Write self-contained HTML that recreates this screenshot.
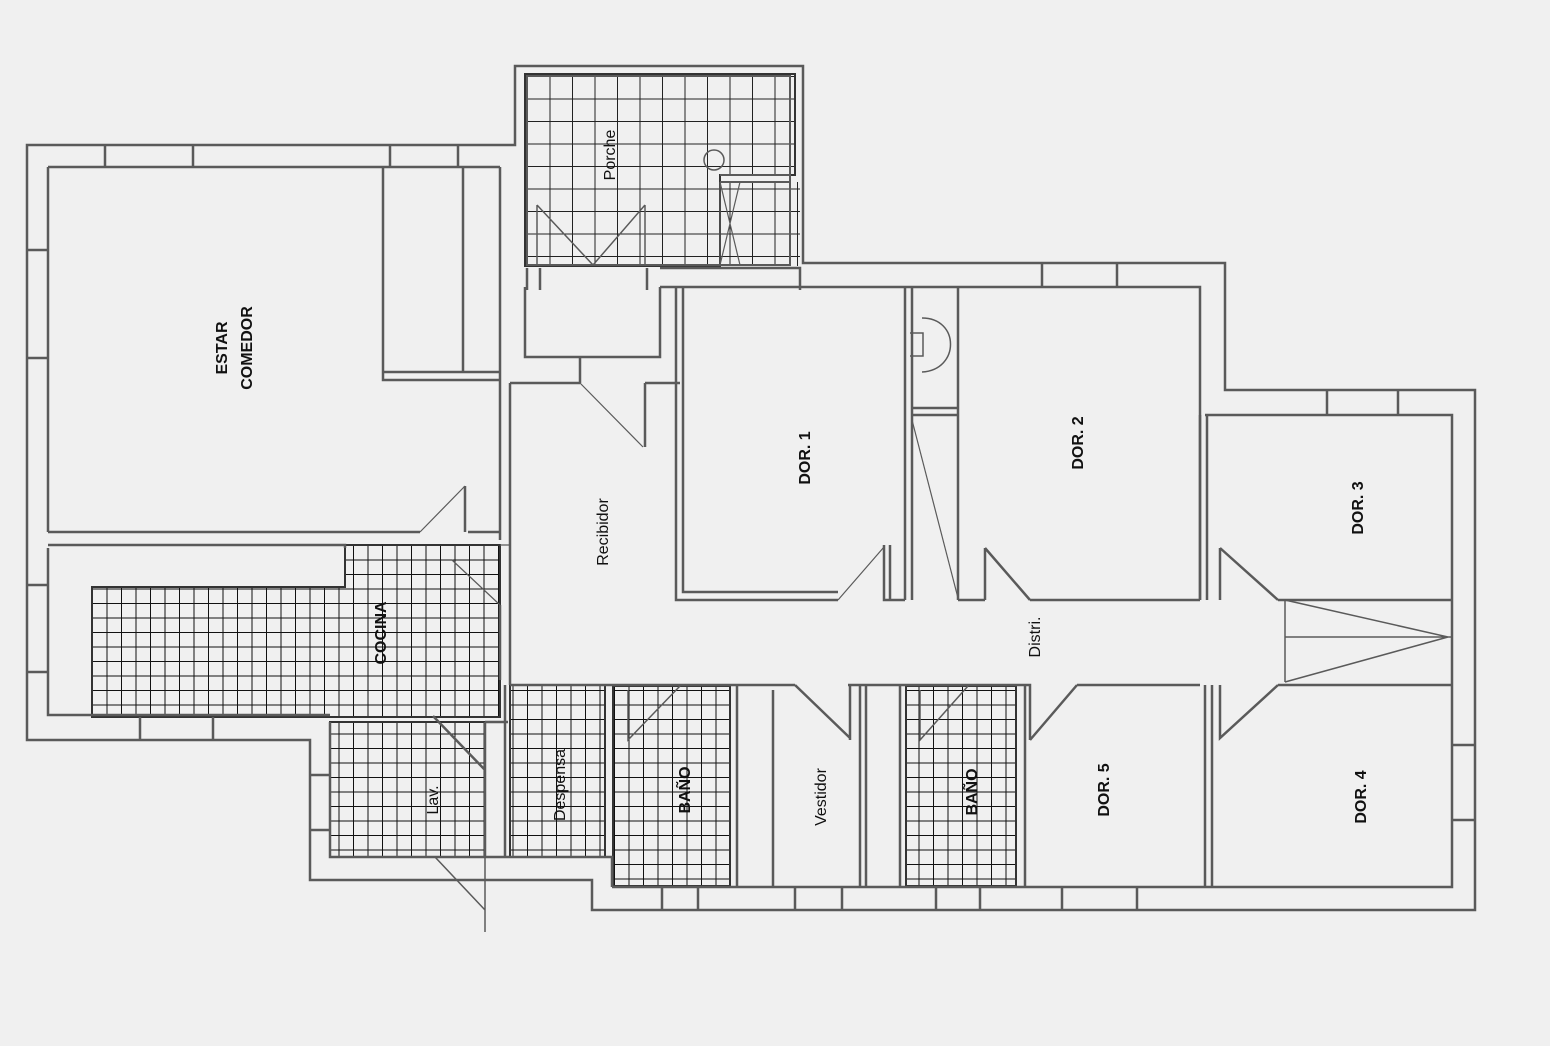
<!DOCTYPE html>
<html><head><meta charset="utf-8"><style>
html,body{margin:0;padding:0;background:#f0f0f0;}
svg{display:block}
text{font-family:"Liberation Sans",Arial,sans-serif;font-weight:bold;fill:#111;font-size:16px}
</style></head><body>
<svg width="1550" height="1046" viewBox="0 0 1550 1046" xmlns="http://www.w3.org/2000/svg">
<defs>
<pattern id="g" x="92" y="545" width="14.5" height="14.5" patternUnits="userSpaceOnUse">
<path d="M0 0H14.5M0 0V14.5" stroke="#111" stroke-width="2" fill="none"/></pattern>
<pattern id="g2" x="527" y="76" width="22.5" height="22.5" patternUnits="userSpaceOnUse">
<path d="M0 0H22.5M0 0V22.5" stroke="#222" stroke-width="2" fill="none"/></pattern>
</defs>
<rect width="1550" height="1046" fill="#f0f0f0"/>
<g stroke="#333" stroke-width="2">
<path d="M92 587H345V545H500V717H92Z" fill="url(#g)"/>
<rect x="330" y="722" width="155" height="135" fill="url(#g)"/>
<rect x="510" y="685" width="95" height="172" fill="url(#g)"/>
<rect x="613" y="686" width="117" height="200" fill="url(#g)"/>
<rect x="906" y="686" width="110" height="200" fill="url(#g)"/>
<path d="M525 74H795V175H720V266H525Z" fill="url(#g2)"/>
<rect x="720" y="182" width="80" height="84" fill="url(#g2)" stroke="none"/>
</g>
<g fill="none" stroke="#5a5a5a" stroke-width="2.5">
<path d="M27 145H515V66H803V263H1225V390H1475V910H592V880H310V740H27Z"/>
<path d="M48 167H500M48 167V532M48 548V715H330M500 167V540"/>
<path d="M527 76H790V265H527Z" stroke-width="2"/>
<path d="M660 287H1200V600M1205 415H1452V887H612"/>
<path d="M330 722V857H612V887"/>
<path d="M105 145V167M193 145V167M390 145V167M458 145V167M27 250H48M27 358H48M27 585H48M27 672H48M140 717V740M213 717V740M310 775H330M310 830H330M1042 263V287M1117 263V287M1327 390V415M1398 390V415M1452 745H1475M1452 820H1475M662 887V910M698 887V910M795 887V910M842 887V910M936 887V910M980 887V910M1062 887V910M1137 887V910"/>
<path d="M383 167V380H500M463 167V372M383 372H500" />
<path d="M383 180V372" stroke-dasharray="6 4" stroke-width="1.5"/>
<path d="M48 532H420M468 532H500M48 545H345V548M465 486V532"/>
<path d="M420 532L465 486" stroke-width="1.2"/>
<path d="M510 383H580M645 383H680M510 383V685M525 287V357H660V287M580 357V383M645 383V447M660 287V357"/>
<path d="M580 383L643 447" stroke-width="1.2"/>
<path d="M500 545H510M452 560L500 605" stroke-width="1.2"/>
<path d="M500 605V680"/>
<path d="M676 287V600H838M683 287V592H838M884 545V600H905M890 545V600"/>
<path d="M838 600L884 547" stroke-width="1.2"/>
<path d="M905 287V600M912 287V600M958 287V600M912 408H958M912 415H958"/>
<path d="M922 318C960 318 960 370 922 372" stroke-width="1.5"/>
<path d="M910 333H923V356H910" stroke-width="1.5"/>
<path d="M912 420L958 598" stroke-width="1.2"/>
<path d="M958 600H985M1030 600H1200M985 548V600M1030 600L985 548" />
<path d="M1200 415V600M1207 415V600M1220 548V600M1220 548L1278 600M1278 600H1452"/>
<path d="M1285 600V682M1285 637H1452M1285 600L1448 637L1285 682" stroke-width="1.5"/>
<path d="M1278 685H1452M1205 685V887M1212 685V887M1220 685V738L1278 685" />
<path d="M510 685H795M848 685H1015M1015 685H1030V740M1077 685H1200M1030 740L1077 685"/>
<path d="M795 685L850 738M850 685V740"/>
<path d="M737 685V887M773 690V887M860 685V887M866 685V887M900 685V887M1025 685V887"/>
<path d="M628 690V740L680 686M920 690V740L968 686" stroke-width="1.5"/>
<path d="M485 722V857M505 685V857M485 722H508M433 716L485 770M485 725V775"/>
<path d="M435 857L485 910M485 857V932" stroke-width="1.5"/>
<path d="M537 205V265M645 205V265M537 205L593 265L645 205" stroke-width="1.5"/>
<path d="M720 182V265M720 182L740 265M720 265L740 182" stroke-width="1.2"/>
<circle cx="714" cy="160" r="10" stroke-width="1.5"/>
<path d="M720 175H790V182H720" stroke-width="2"/>
<path d="M527 268V290M540 268V290M647 268V290M660 268H800V290"/>
</g>
<g>
<text transform="translate(227 348) rotate(-90)" text-anchor="middle">ESTAR</text>
<text transform="translate(252 348) rotate(-90)" text-anchor="middle">COMEDOR</text>
<text transform="translate(615 155) rotate(-90)" text-anchor="middle" style="font-weight:normal">Porche</text>
<text transform="translate(608 532) rotate(-90)" text-anchor="middle" style="font-weight:normal">Recibidor</text>
<text transform="translate(810 458) rotate(-90)" text-anchor="middle">DOR. 1</text>
<text transform="translate(1083 443) rotate(-90)" text-anchor="middle">DOR. 2</text>
<text transform="translate(1363 508) rotate(-90)" text-anchor="middle">DOR. 3</text>
<text transform="translate(386 633) rotate(-90)" text-anchor="middle">COCINA</text>
<text transform="translate(1040 637) rotate(-90)" text-anchor="middle" style="font-weight:normal">Distri.</text>
<text transform="translate(438 800) rotate(-90)" text-anchor="middle" style="font-weight:normal">Lav.</text>
<text transform="translate(565 785) rotate(-90)" text-anchor="middle" style="font-weight:normal">Despensa</text>
<text transform="translate(690 790) rotate(-90)" text-anchor="middle">BAÑO</text>
<text transform="translate(826 797) rotate(-90)" text-anchor="middle" style="font-weight:normal">Vestidor</text>
<text transform="translate(977 792) rotate(-90)" text-anchor="middle">BAÑO</text>
<text transform="translate(1109 790) rotate(-90)" text-anchor="middle">DOR. 5</text>
<text transform="translate(1366 797) rotate(-90)" text-anchor="middle">DOR. 4</text>
</g>
</svg>
</body></html>
